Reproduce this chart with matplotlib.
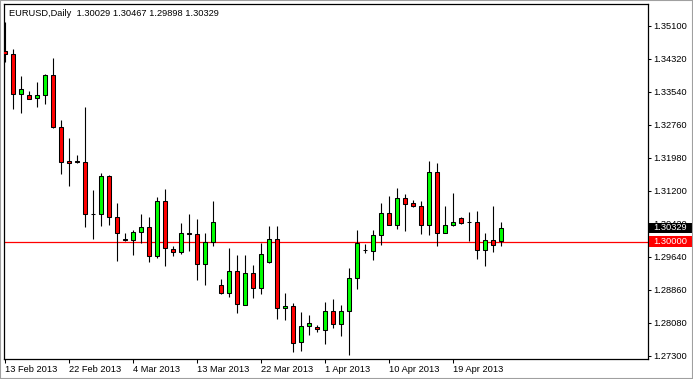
import matplotlib
matplotlib.use("Agg")
import matplotlib.pyplot as plt
import matplotlib.transforms as mtransforms
from matplotlib.patches import Rectangle
import numpy as np

# EURUSD daily bars, 13 Feb 2013 .. 24 Apr 2013 (broker with Sunday bars)
opens = [1.34509, 1.34439, 1.33486, 1.33462, 1.33391, 1.33462, 1.33935, 1.32706, 1.31909, 1.31900,
         1.31897, 1.30656, 1.30668, 1.31555, 1.30578, 1.30060, 1.30048, 1.30242, 1.30360, 1.29670,
         1.30975, 1.29840, 1.29765, 1.30214, 1.30195, 1.29486, 1.30006, 1.28989, 1.28800, 1.29320,
         1.28517, 1.29273, 1.28918, 1.29524, 1.30077, 1.28446, 1.28493, 1.27642, 1.28020, 1.27997,
         1.27926, 1.28375, 1.28068, 1.28375, 1.29155, 1.29813, 1.29789, 1.30171, 1.30691, 1.30408,
         1.31046, 1.30928, 1.30857, 1.30408, 1.31660, 1.30218, 1.30408, 1.30573, 1.30474, 1.30478,
         1.29816, 1.30043, 1.30029]
highs = [1.35195, 1.34549, 1.33918, 1.33564, 1.33769, 1.33966, 1.34337, 1.32878, 1.32453, 1.32051,
         1.33193, 1.31224, 1.31618, 1.31571, 1.30911, 1.30202, 1.30289, 1.30651, 1.30596, 1.31069,
         1.31242, 1.29911, 1.30438, 1.30651, 1.30533, 1.30218, 1.30958, 1.29115, 1.29848, 1.29687,
         1.29682, 1.29446, 1.29982, 1.30367, 1.30367, 1.28784, 1.28564, 1.28335, 1.28264, 1.28035,
         1.28571, 1.28659, 1.28517, 1.29375, 1.30289, 1.29958, 1.30273, 1.30927, 1.31093, 1.31265,
         1.31140, 1.30999, 1.30975, 1.31904, 1.31873, 1.30857, 1.31163, 1.30596, 1.30715, 1.30738,
         1.30218, 1.30840, 1.30467]
lows = [1.34249, 1.33131, 1.33051, 1.33363, 1.33193, 1.33256, 1.32690, 1.31590, 1.31320, 1.31850,
        1.30356, 1.30060, 1.30373, 1.30398, 1.29547, 1.30025, 1.29689, 1.29965, 1.29524, 1.29618,
        1.29429, 1.29670, 1.29717, 1.29784, 1.29098, 1.28980, 1.29903, 1.28767, 1.28696, 1.28318,
        1.28512, 1.28682, 1.28760, 1.29493, 1.28176, 1.28153, 1.27397, 1.27420, 1.27798, 1.27869,
        1.27578, 1.27964, 1.27775, 1.27325, 1.28886, 1.29746, 1.29564, 1.29926, 1.30403, 1.30303,
        1.30256, 1.30833, 1.30191, 1.30171, 1.29911, 1.30200, 1.30375, 1.30431, 1.30020, 1.29595,
        1.29438, 1.29769, 1.29898]
closes = [1.34438, 1.33486, 1.33604, 1.33368, 1.33462, 1.33935, 1.32706, 1.31897, 1.31855, 1.31895,
          1.30649, 1.30668, 1.31555, 1.30578, 1.30200, 1.30041, 1.30242, 1.30360, 1.29670, 1.30975,
          1.29864, 1.29765, 1.30214, 1.30195, 1.29486, 1.30006, 1.30478, 1.28800, 1.29320, 1.28540,
          1.29273, 1.28918, 1.29722, 1.30077, 1.28446, 1.28493, 1.27619, 1.28020, 1.28091, 1.27940,
          1.28375, 1.28068, 1.28375, 1.29155, 1.29982, 1.29800, 1.30167, 1.30691, 1.30408, 1.31046,
          1.30904, 1.30857, 1.30408, 1.31660, 1.30218, 1.30408, 1.30478, 1.30455, 1.30462, 1.29816,
          1.30043, 1.29935, 1.30329]

date_labels = ["13 Feb 2013", "22 Feb 2013", "4 Mar 2013", "13 Mar 2013",
               "22 Mar 2013", "1 Apr 2013", "10 Apr 2013", "19 Apr 2013"]
label_bars = [0, 8, 16, 24, 32, 40, 48, 56]
price_levels = [1.27300, 1.28080, 1.28860, 1.29640, 1.30420, 1.31200,
                1.31980, 1.32760, 1.33540, 1.34320, 1.35100]
level_line = 1.30000
symbol = "EURUSD,Daily"

plt.rcParams["font.family"] = ["Liberation Sans", "DejaVu Sans"]
FS = 6.7

o = np.array(opens)
h = np.array(highs)
l = np.array(lows)
c = np.array(closes)
x = np.arange(len(o))

fig = plt.figure(figsize=(6.93, 3.79), dpi=100)
ax = fig.add_axes([4 / 693, 20 / 379, 644 / 693, 355 / 379])

ax.axhline(level_line, color="#ff0000", lw=0.9, zorder=1)

ax.vlines(x, l, h, color="black", lw=0.8, zorder=2)
bottoms = np.minimum(o, c)
heights = np.maximum(np.abs(c - o), 0.00002)
colors = np.where(c > o, "#00ff00", "#ff0000")
ax.bar(x, heights, bottom=bottoms, width=0.5, color=colors,
       edgecolor="black", linewidth=0.75, zorder=3)

ax.set_xlim(-0.125, 80.375)
ax.set_ylim(1.27229, 1.3562)

ax.set_xticks(label_bars)
ax.set_xticklabels(date_labels)
for lab in ax.get_xticklabels():
    lab.set_horizontalalignment("left")
ax.tick_params(axis="x", direction="out", length=3, width=0.75, pad=1.5, labelsize=FS)

ax.yaxis.tick_right()
ax.set_yticks(price_levels)
ax.set_yticklabels([f"{p:.5f}" for p in price_levels])
ax.tick_params(axis="y", direction="out", length=2.5, width=0.75, pad=1.5, labelsize=FS)

for s in ax.spines.values():
    s.set_linewidth(0.9)
    s.set_color("black")

# price tags on the right scale
trans = mtransforms.blended_transform_factory(ax.transAxes, ax.transData)
half = 5.3 * (1.3562 - 1.27229) / 355
for price, face in [(closes[-1], "black"), (level_line, "#ff0000")]:
    ax.add_patch(Rectangle((1.0016, price - half), 0.0668, 2 * half, transform=trans,
                           facecolor=face, edgecolor="none", clip_on=False, zorder=5))
    ax.text(1.0078, price, f"{price:.5f}", transform=trans, ha="left", va="center",
            color="white", fontsize=FS, clip_on=False, zorder=6)

header = f"{symbol}  {opens[-1]:.5f} {highs[-1]:.5f} {lows[-1]:.5f} {closes[-1]:.5f}"
fig.text(9 / 693, 1 - 13 / 379, header, ha="left", va="center", fontsize=FS, color="black")

fig.patches.append(Rectangle((0, 0), 1, 1, transform=fig.transFigure, fill=False,
                             edgecolor="#a0a0a0", lw=1.5))

fig.savefig("out.png", dpi=100)
